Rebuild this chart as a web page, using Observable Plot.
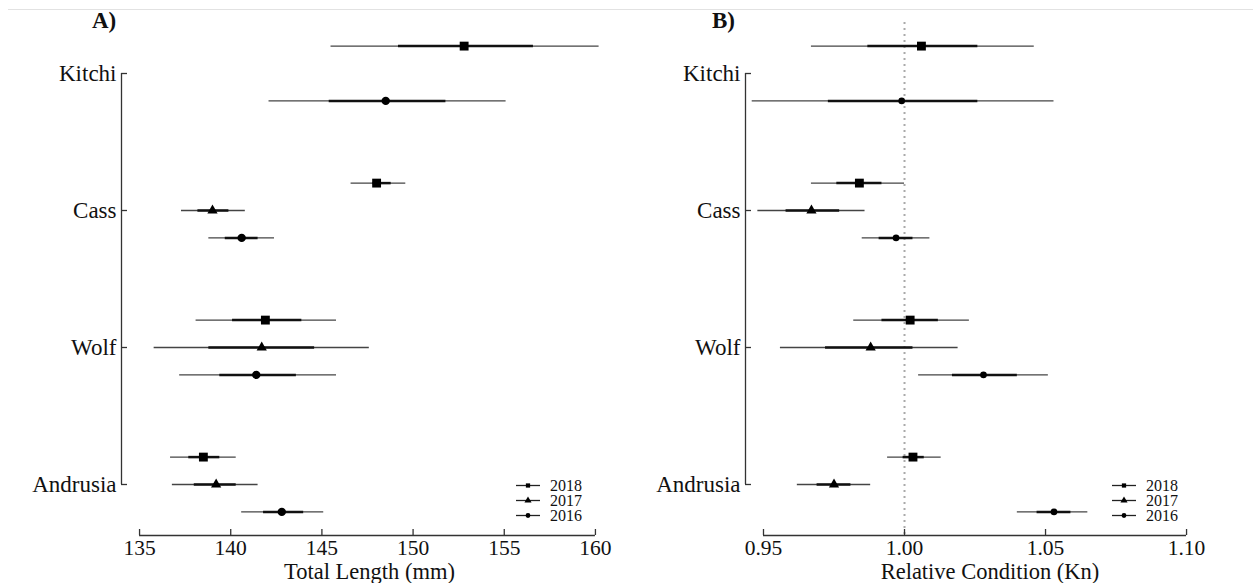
<!DOCTYPE html>
<html>
<head>
<meta charset="utf-8">
<script src="https://cdn.jsdelivr.net/npm/d3@7"></script>
<script src="https://cdn.jsdelivr.net/npm/@observablehq/plot@0.6"></script>
<style>
  body { margin: 0; background: #fff; font-family: "Liberation Serif", "Times New Roman", serif; }
  #wrap { position: relative; width: 1253px; height: 583px; overflow: hidden; background: #fff; }
  #topline { position: absolute; left: 8px; right: 0; top: 9px; border-top: 1px solid #e2e2e2; }
  .panel { position: absolute; top: 0; }
  .tag { position: absolute; top: 9px; font-weight: bold; font-size: 23px; line-height: 23px; color: #111; }
  .legend { position: absolute; font-size: 16px; color: #111; }
  .legend .row { display: flex; align-items: center; height: 15px; line-height: 15px; }
  .legend svg { display: block; }
</style>
</head>
<body>
<div id="wrap">
  <div id="topline"></div>
  <div class="panel" id="panelA" style="left:0px"></div>
  <div class="panel" id="panelB" style="left:626px"></div>
  <div class="tag" style="left:92px">A)</div>
  <div class="tag" style="left:712px">B)</div>
</div>
<script>
// ---- data ----
const lakes = ["Andrusia", "Wolf", "Cass", "Kitchi"];   // bottom to top
const years = ["2018", "2017", "2016"];

const rowLake = ["Kitchi", "Kitchi", "Cass", "Cass", "Cass", "Wolf", "Wolf", "Wolf", "Andrusia", "Andrusia", "Andrusia"];
const rowYear = ["2018", "2016", "2018", "2017", "2016", "2018", "2017", "2016", "2018", "2017", "2016"];

// Panel A: Total Length (mm)
const tlMean  = [152.8, 148.5, 148.0, 139.0, 140.6, 141.9, 141.7, 141.4, 138.5, 139.2, 142.8];
const tlLo95  = [145.5, 142.1, 146.6, 137.3, 138.8, 138.1, 135.8, 137.2, 136.7, 136.8, 140.6];
const tlHi95  = [160.2, 155.1, 149.6, 140.8, 142.4, 145.8, 147.6, 145.8, 140.3, 141.5, 145.1];
const tlLo50  = [149.2, 145.4, 147.8, 138.2, 139.7, 140.1, 138.8, 139.4, 137.7, 138.0, 141.8];
const tlHi50  = [156.6, 151.8, 148.8, 139.9, 141.5, 143.9, 144.6, 143.6, 139.4, 140.3, 144.0];
const tlTicks = [135, 140, 145, 150, 155, 160];

// Panel B: Relative Condition (Kn)
const knMean  = [1.006, 0.999, 0.984, 0.967, 0.997, 1.002, 0.988, 1.028, 1.003, 0.975, 1.053];
const knLo95  = [0.967, 0.946, 0.967, 0.948, 0.985, 0.982, 0.956, 1.005, 0.994, 0.962, 1.040];
const knHi95  = [1.046, 1.053, 1.000, 0.986, 1.009, 1.023, 1.019, 1.051, 1.013, 0.988, 1.065];
const knLo50  = [0.987, 0.973, 0.976, 0.958, 0.991, 0.992, 0.972, 1.017, 0.9995, 0.969, 1.047];
const knHi50  = [1.026, 1.026, 0.992, 0.977, 1.003, 1.012, 1.003, 1.040, 1.007, 0.981, 1.059];
const knTicks = [0.95, 1.00, 1.05, 1.10];

// ---- layout helpers ----
const yearShift = {"2018": 0.2, "2017": 0, "2016": -0.2};   // dodge within lake
const symbolRange = ["square", "triangle", "circle"];
const yDomain = [-0.3723, 3.3723];

function rows(mean, lo95, hi95, lo50, hi50) {
  return rowLake.map((lake, i) => ({
    lake, year: rowYear[i],
    pos: lakes.indexOf(lake) + yearShift[rowYear[i]],
    mean: mean[i], lo95: lo95[i], hi95: hi95[i], lo50: lo50[i], hi50: hi50[i]
  }));
}

function panel({data, xDomain, ticks, tickFormat, label, marginLeft, marginRight, width, refLine, circleR}) {
  const marks = [];
  if (refLine != null) {
    marks.push(Plot.ruleX([refLine], {stroke: "#aaaaaa", strokeWidth: 2, strokeDasharray: "2,4"}));
  }
  marks.push(
    // capped axis lines
    Plot.ruleY([yDomain[0]], {x1: ticks[0], x2: ticks[ticks.length - 1], stroke: "#333", strokeWidth: 1.3}),
    Plot.ruleX([xDomain[0]], {y1: 0, y2: lakes.length - 1, stroke: "#333", strokeWidth: 1.3}),
    Plot.axisX({ticks, tickFormat, tickSize: -6, tickPadding: 10, stroke: "#333", strokeWidth: 1.3,
      fontSize: 21.5, label: null, fill: "#111"}),
    Plot.axisX({ticks: [], tickSize: 0, label, labelAnchor: "center", labelOffset: 43, labelArrow: "none",
      fontSize: 22.5, fill: "#111"}),
    Plot.axisY({ticks: d3.range(lakes.length), tickFormat: i => lakes[i], tickSize: -6, tickPadding: 11,
      stroke: "#333", strokeWidth: 1.3, fontSize: 23, label: null, fill: "#111"}),
    // intervals
    Plot.ruleY(data, {y: "pos", x1: "lo95", x2: "hi95", stroke: "#444", strokeWidth: 1.3}),
    Plot.ruleY(data, {y: "pos", x1: "lo50", x2: "hi50", stroke: "#111", strokeWidth: 2.5}),
    // points
    Plot.dot(data.filter(d => d.year === "2018"), {x: "mean", y: "pos", symbol: "year", r: 5.0, fill: "#000", stroke: "none"}),
    Plot.dot(data.filter(d => d.year === "2017"), {x: "mean", y: "pos", symbol: "year", r: 3.8, fill: "#000", stroke: "none"}),
    Plot.dot(data.filter(d => d.year === "2016"), {x: "mean", y: "pos", symbol: "year", r: circleR, fill: "#000", stroke: "none"})
  );
  return Plot.plot({
    width, height: 583,
    marginLeft, marginRight, marginTop: 22, marginBottom: 48,
    style: {fontFamily: "'Liberation Serif', 'Times New Roman', serif", fontSize: "22px", color: "#111", background: "transparent", overflow: "visible"},
    x: {domain: xDomain, label: null},
    y: {domain: yDomain, label: null},
    symbol: {domain: years, range: symbolRange},
    marks
  });
}

document.getElementById("panelA").appendChild(panel({
  data: rows(tlMean, tlLo95, tlHi95, tlLo50, tlHi50),
  xDomain: [134.01, 161.21], ticks: tlTicks, tickFormat: d3.format("d"),
  label: "Total Length (mm)", marginLeft: 121, marginRight: 9, width: 626, refLine: null, circleR: 4.2
}));
document.getElementById("panelB").appendChild(panel({
  data: rows(knMean, knLo95, knHi95, knLo50, knHi50),
  xDomain: [0.94362, 1.117], ticks: knTicks, tickFormat: d3.format(".2f"),
  label: "Relative Condition (Kn)", marginLeft: 119, marginRight: 19, width: 627, refLine: 1.0, circleR: 3.3
}));

// ---- legends ----
const legendSymbols = [d3.symbolSquare, d3.symbolTriangle, d3.symbolCircle];
function legend(left, top) {
  const div = document.createElement("div");
  div.className = "legend";
  div.style.left = left + "px";
  div.style.top = top + "px";
  years.forEach((yr, i) => {
    const row = document.createElement("div");
    row.className = "row";
    const path = d3.symbol(legendSymbols[i], i === 1 ? 22 : 18)();
    row.innerHTML = `<svg width="24" height="15"><line x1="0" x2="24" y1="7.5" y2="7.5" stroke="#222" stroke-width="1.3"/><path d="${path}" transform="translate(12,7.5)" fill="#000"/></svg><span style="margin-left:10px">${yr}</span>`;
    div.appendChild(row);
  });
  document.getElementById("wrap").appendChild(div);
}
legend(516, 478);
legend(1112, 478);
</script>
</body>
</html>
